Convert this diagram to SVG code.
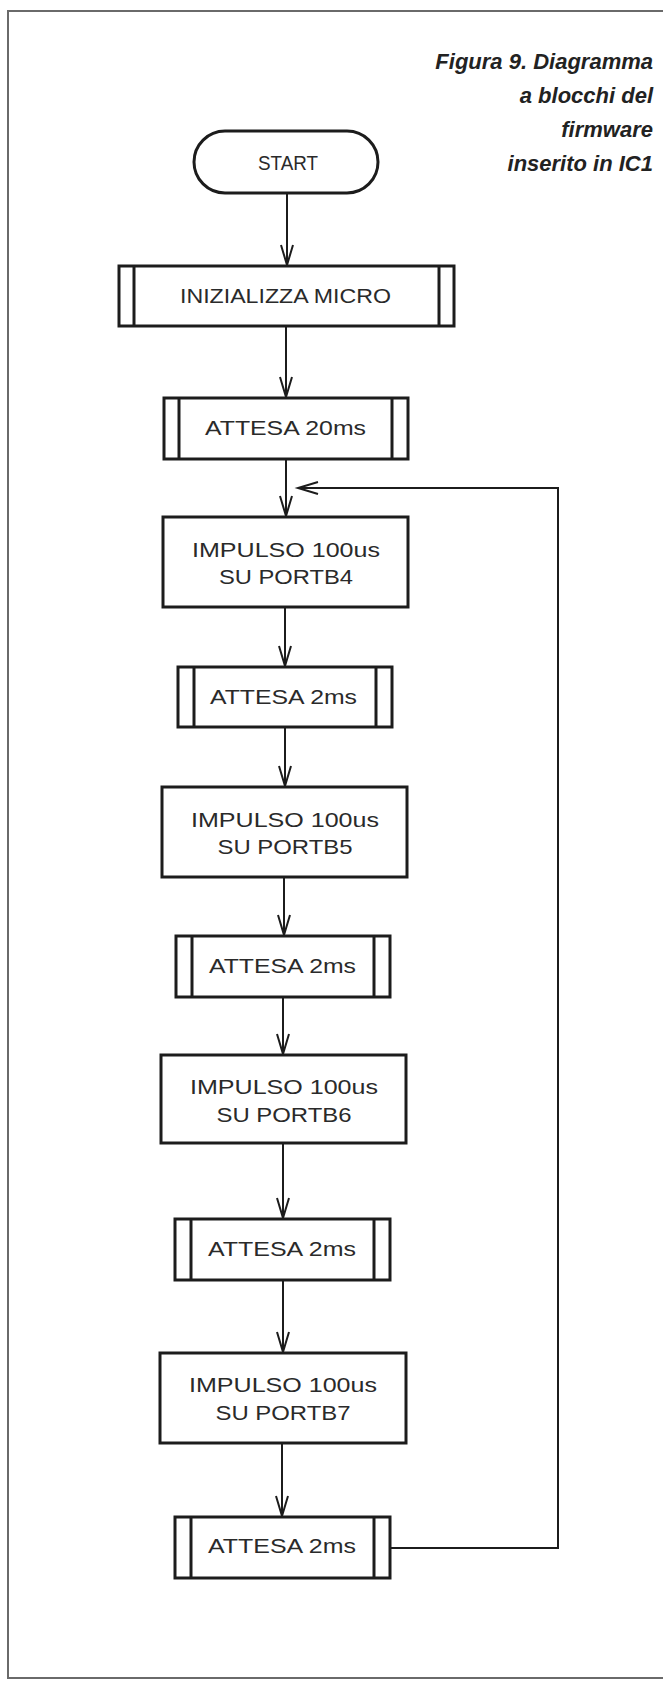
<svg xmlns="http://www.w3.org/2000/svg" width="663" height="1686" viewBox="0 0 663 1686">
  <style>
    .frame { fill: none; stroke: #6a6a6a; stroke-width: 2; }
    .box { fill: #ffffff; stroke: #1c1c1c; stroke-width: 3; }
    .bar { stroke: #1c1c1c; stroke-width: 3; }
    .conn { fill: none; stroke: #1c1c1c; stroke-width: 2; }
    .arrow { marker-end: url(#arr); }
    .lbl { font-family: "Liberation Sans", Arial, sans-serif; font-size: 21px; fill: #2a2a2a; text-anchor: middle; }
    .cap { font-family: "Liberation Sans", Arial, sans-serif; font-weight: bold; font-style: italic; font-size: 22px; fill: #222222; text-anchor: end; }
  </style>
  <defs>
    <marker id="arr" markerUnits="userSpaceOnUse" viewBox="-22 -8 24 16" markerWidth="24" markerHeight="16" refX="0" refY="0" orient="auto" overflow="visible">
      <path d="M-20,-6 L0,0 L-20,6" fill="none" stroke="#1c1c1c" stroke-width="2"/>
    </marker>
  </defs>
  <rect width="663" height="1686" fill="#ffffff"/>
  <g id="frame">
    <path class="frame" d="M663,11 H8 V1678 H663"/>
  </g>
  <g id="caption">
    <text class="cap" x="653" y="69">Figura 9. Diagramma</text>
    <text class="cap" x="653" y="103">a blocchi del</text>
    <text class="cap" x="653" y="137">firmware</text>
    <text class="cap" x="653" y="171">inserito in IC1</text>
  </g>
  <g id="connectors">
    <line class="conn arrow" x1="287" y1="193" x2="287" y2="265"/>
    <line class="conn arrow" x1="286" y1="326" x2="286" y2="397"/>
    <line class="conn arrow" x1="286" y1="459" x2="286" y2="516"/>
    <line class="conn arrow" x1="285" y1="607" x2="285" y2="666"/>
    <line class="conn arrow" x1="285" y1="727" x2="285" y2="786"/>
    <line class="conn arrow" x1="284" y1="877" x2="284" y2="935"/>
    <line class="conn arrow" x1="283" y1="997" x2="283" y2="1054"/>
    <line class="conn arrow" x1="283" y1="1143" x2="283" y2="1218"/>
    <line class="conn arrow" x1="283" y1="1280" x2="283" y2="1352"/>
    <line class="conn arrow" x1="282" y1="1443" x2="282" y2="1516"/>
    <path class="conn arrow" d="M391,1548 H558 V488 H298"/>
  </g>
  <g id="start">
    <rect class="box" x="194" y="131" width="184" height="62" rx="31" ry="31"/>
    <text class="lbl" x="288" y="170" textLength="60" lengthAdjust="spacingAndGlyphs">START</text>
  </g>
  <g id="inizializza">
    <rect class="box" x="119" y="266" width="335" height="60"/>
    <line class="bar" x1="134" y1="266" x2="134" y2="326"/>
    <line class="bar" x1="439" y1="266" x2="439" y2="326"/>
    <text class="lbl" x="285.5" y="303" textLength="211" lengthAdjust="spacingAndGlyphs">INIZIALIZZA MICRO</text>
  </g>
  <g id="attesa20">
    <rect class="box" x="164" y="398" width="244" height="61"/>
    <line class="bar" x1="179" y1="398" x2="179" y2="459"/>
    <line class="bar" x1="392" y1="398" x2="392" y2="459"/>
    <text class="lbl" x="285.5" y="435" textLength="161" lengthAdjust="spacingAndGlyphs">ATTESA 20ms</text>
  </g>
  <g id="impulso4">
    <rect class="box" x="163" y="517" width="245" height="90"/>
    <text class="lbl" x="286" y="557" textLength="188" lengthAdjust="spacingAndGlyphs">IMPULSO 100us</text>
    <text class="lbl" x="286" y="584" textLength="134" lengthAdjust="spacingAndGlyphs">SU PORTB4</text>
  </g>
  <g id="attesa2a">
    <rect class="box" x="178" y="667" width="214" height="60"/>
    <line class="bar" x1="194" y1="667" x2="194" y2="727"/>
    <line class="bar" x1="376" y1="667" x2="376" y2="727"/>
    <text class="lbl" x="283.5" y="704" textLength="147" lengthAdjust="spacingAndGlyphs">ATTESA 2ms</text>
  </g>
  <g id="impulso5">
    <rect class="box" x="162" y="787" width="245" height="90"/>
    <text class="lbl" x="285" y="827" textLength="188" lengthAdjust="spacingAndGlyphs">IMPULSO 100us</text>
    <text class="lbl" x="285" y="854" textLength="135" lengthAdjust="spacingAndGlyphs">SU PORTB5</text>
  </g>
  <g id="attesa2b">
    <rect class="box" x="176" y="936" width="214" height="61"/>
    <line class="bar" x1="192" y1="936" x2="192" y2="997"/>
    <line class="bar" x1="374" y1="936" x2="374" y2="997"/>
    <text class="lbl" x="282.5" y="973" textLength="147" lengthAdjust="spacingAndGlyphs">ATTESA 2ms</text>
  </g>
  <g id="impulso6">
    <rect class="box" x="161" y="1055" width="245" height="88"/>
    <text class="lbl" x="284" y="1094" textLength="188" lengthAdjust="spacingAndGlyphs">IMPULSO 100us</text>
    <text class="lbl" x="284" y="1122" textLength="135" lengthAdjust="spacingAndGlyphs">SU PORTB6</text>
  </g>
  <g id="attesa2c">
    <rect class="box" x="175" y="1219" width="215" height="61"/>
    <line class="bar" x1="191" y1="1219" x2="191" y2="1280"/>
    <line class="bar" x1="374" y1="1219" x2="374" y2="1280"/>
    <text class="lbl" x="282" y="1256" textLength="148" lengthAdjust="spacingAndGlyphs">ATTESA 2ms</text>
  </g>
  <g id="impulso7">
    <rect class="box" x="160" y="1353" width="246" height="90"/>
    <text class="lbl" x="283" y="1392" textLength="188" lengthAdjust="spacingAndGlyphs">IMPULSO 100us</text>
    <text class="lbl" x="283" y="1420" textLength="135" lengthAdjust="spacingAndGlyphs">SU PORTB7</text>
  </g>
  <g id="attesa2d">
    <rect class="box" x="175" y="1517" width="215" height="61"/>
    <line class="bar" x1="191" y1="1517" x2="191" y2="1578"/>
    <line class="bar" x1="374" y1="1517" x2="374" y2="1578"/>
    <text class="lbl" x="282" y="1553" textLength="148" lengthAdjust="spacingAndGlyphs">ATTESA 2ms</text>
  </g>
</svg>
